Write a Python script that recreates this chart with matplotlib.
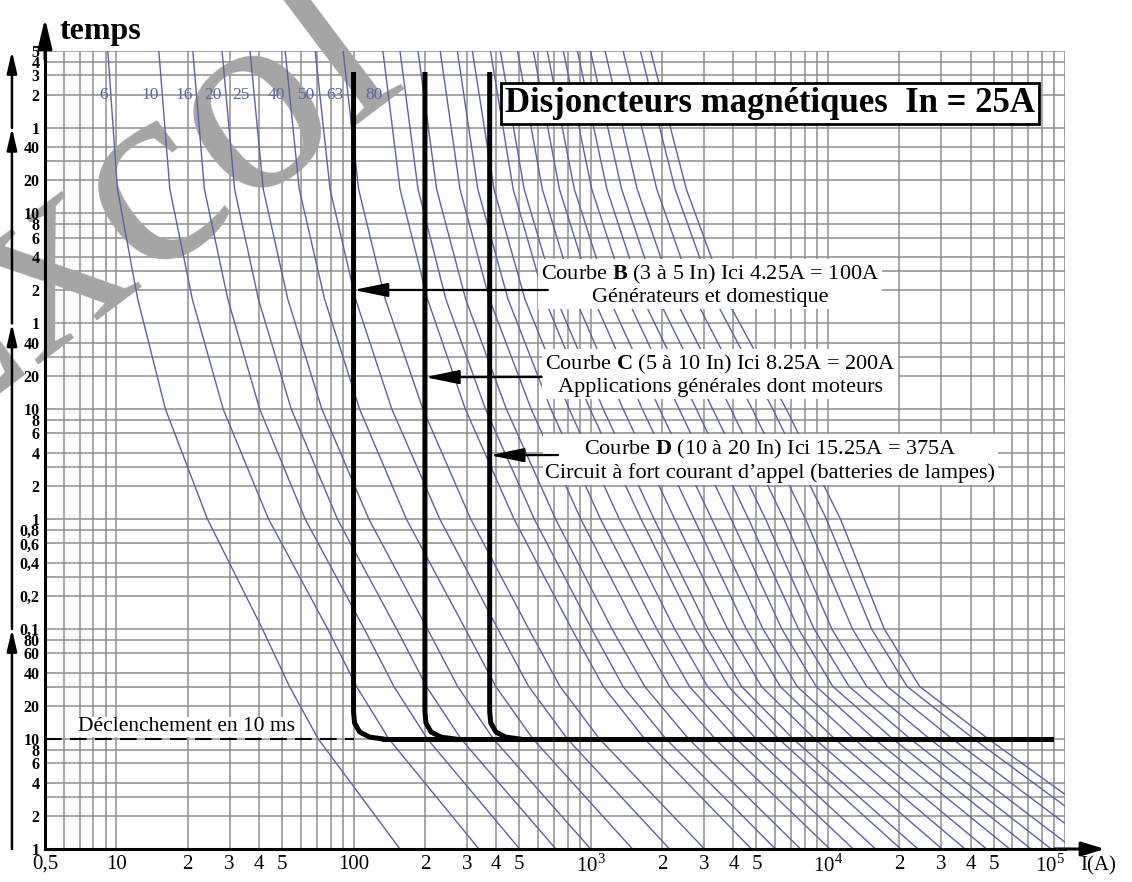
import matplotlib.pyplot as plt
import matplotlib.ticker as mticker

plt.rcParams['font.family'] = 'Liberation Serif'
plt.rcParams['mathtext.fontset'] = 'custom'
plt.rcParams['mathtext.rm'] = 'Liberation Serif'
plt.rcParams['mathtext.bf'] = 'Liberation Serif:bold'

# fuse curves (blue): current (A) at fixed times (s)
fuse_times = [18000, 1000, 100, 10, 1, 0.1, 0.03, 0.01, 0.001]
fuse_currents = [
    [9.2, 10.1, 12.3, 16.1, 24.2, 41.3, 53.7, 71.0, 157],
    [15.1, 16.8, 20.9, 28.2, 43.8, 77.8, 103, 141, 338],
    [21.0, 23.5, 29.5, 40.2, 62.5, 111, 148, 205, 502],
    [27.9, 31.5, 39.7, 54.6, 85.5, 152, 203, 284, 713],
    [36.6, 41.6, 52.8, 73.5, 116, 205, 275, 389, 1000],
    [51.5, 59.0, 75.5, 106, 167, 296, 398, 571, 1500],
    [68.9, 79.6, 102, 145, 231, 406, 548, 798, 2150],
    [90.4, 105, 136, 196, 312, 548, 743, 1090, 3020],
    [133, 157, 205, 296, 475, 832, 1130, 1690, 4760],
    [157, 187, 245, 360, 578, 1010, 1370, 2080, 6010],
    [187, 224, 297, 441, 711, 1230, 1690, 2590, 7670],
    [232, 281, 374, 561, 908, 1570, 2150, 3350, 10200],
    [274, 334, 448, 679, 1100, 1900, 2610, 4120, 12800],
    [317, 391, 528, 811, 1320, 2260, 3110, 4990, 15900],
    [378, 471, 640, 993, 1630, 2760, 3810, 6210, 20300],
    [416, 524, 718, 1130, 1850, 3130, 4330, 7150, 24000],
    [491, 625, 863, 1370, 2260, 3780, 5250, 8810, 30300],
    [573, 738, 1030, 1650, 2730, 4530, 6300, 10700, 37900],
    [656, 853, 1200, 1950, 3240, 5330, 7430, 12900, 46700],
    [767, 1010, 1430, 2360, 3910, 6400, 8930, 15700, 58500],
    [879, 1170, 1660, 2790, 4630, 7520, 10500, 18800, 71900],
    [998, 1350, 1930, 3270, 5460, 8750, 12300, 22300, 87500],
    [1150, 1570, 2270, 3900, 6530, 10400, 14600, 26900, 109000],
    [1370, 1900, 2760, 4800, 8050, 12700, 17800, 33500, 139000],
    [1620, 2270, 3330, 5860, 9860, 15300, 21600, 41300, 176000],
    [1790, 2530, 3740, 6680, 11300, 17300, 24400, 47500, 208000],
]
fuse_labels = ['6', '10', '16', '20', '25', '40', '50', '63', '80']

# magnetic breakers (thick black): B, C, D
trip_time = 0.01
breaker_t = [11000, 0.0176, 0.014, 0.0116, 0.0104, 0.01]
breaker_B_I = [100, 100, 101, 106, 117, 134]
breaker_C_I = [200, 200, 202, 212, 234, 268]
breaker_D_I = [375, 375, 379, 398, 438, 502]
trip_line_end = 87000

# axis ticks
xtick_values = [5, 10, 20, 30, 40, 50, 100, 200, 300, 400, 500, 1000, 2000, 3000, 4000, 5000,
                10000, 20000, 30000, 40000, 50000, 100000]
xtick_labels = ['0,5', '10', '2', '3', '4', '5', '100', '2', '3', '4', '5', r'$10^3$', '2', '3', '4', '5',
                r'$10^4$', '2', '3', '4', '5', r'$10^5$']
ytick_values = [0.001, 0.002, 0.004, 0.006, 0.008, 0.01, 0.02, 0.04, 0.06, 0.08,
                0.1, 0.2, 0.4, 0.6, 0.8, 1, 2, 4, 6, 8, 10, 20, 40,
                60, 120, 240, 360, 480, 600, 1200, 2400,
                3600, 7200, 10800, 14400, 18000]
ytick_labels = ['1', '2', '4', '6', '8', '10', '20', '40', '60', '80',
                '0,1', '0,2', '0,4', '0,6', '0,8', '1', '2', '4', '6', '8', '10', '20', '40',
                '1', '2', '4', '6', '8', '10', '20', '40',
                '1', '2', '3', '4', '5']

fig = plt.figure(figsize=(11.32, 8.82), dpi=100)
ax = fig.add_axes([45 / 1132, 33 / 882, 1020 / 1132, 798 / 882])
ax.set_xscale('log')
ax.set_yscale('log')
ax.set_xlim(5, 1e5)
ax.set_ylim(1e-3, 18000)

# log paper grid
grid_col = '#8e8e8e'
grid_x = [k * 10 ** e for e in range(0, 5) for k in range(1, 10) if 5 <= k * 10 ** e <= 1e5] + [1e5]
grid_y = [k * 10.0 ** e for e in range(-3, 1) for k in (1, 2, 3, 4, 6, 8)]
grid_y += [10, 20, 30, 40, 60, 120, 180, 240, 360, 480, 600, 1200, 1800, 2400,
           3600, 7200, 10800, 14400, 18000]
for gx in grid_x:
    ax.axvline(gx, color=grid_col, lw=1.1, zorder=1)
for gy in grid_y:
    ax.axhline(gy, color=grid_col, lw=1.1, zorder=1)

# watermark
ax.text(-0.0856, 0.4773, 'Excol', transform=fig.transFigure, fontsize=195, rotation=37,
        rotation_mode='anchor', ha='left', va='baseline', color='#a5a5a5', zorder=1.5, clip_on=False)

# fuse curves
for cur in fuse_currents:
    ax.plot(cur, fuse_times, color='#5a63a3', lw=1.0, zorder=2)
for lab, cur in zip(fuse_labels, fuse_currents):
    ax.text(cur[0], 7100, lab, ha='right', va='center', fontsize=12.5, color='#5468a6', zorder=2.5)

# breakers
for bI in (breaker_B_I, breaker_C_I, breaker_D_I):
    ax.plot(bI, breaker_t, color='black', lw=3.6, zorder=3, solid_joinstyle='round')
ax.plot([breaker_B_I[-1], trip_line_end], [trip_time, trip_time], color='black', lw=3.6, zorder=3)
ax.plot([5, breaker_B_I[0]], [trip_time, trip_time], color='black', lw=1.5,
        dashes=(8, 4), zorder=3)
ax.text(0.139, 0.153, 'Déclenchement en 10 ms', transform=ax.transAxes, fontsize=15.5,
        ha='center', va='center', zorder=5,
        bbox=dict(facecolor='white', edgecolor='none', pad=0.5))

# title box
ax.text(0.711, 0.934, 'Disjoncteurs magnétiques  In = 25A', transform=ax.transAxes,
        fontsize=25, fontweight='bold', ha='center', va='center', zorder=6,
        bbox=dict(boxstyle='square,pad=0.12', facecolor='white', edgecolor='black', lw=2))

# annotations
notes = [
    (0.652, 0.707, 'Courbe $\\mathbf{B}$ (3 à 5 In) Ici 4.25A = 100A\nGénérateurs et domestique'),
    (0.662, 0.594, 'Courbe $\\mathbf{C}$ (5 à 10 In) Ici 8.25A = 200A\nApplications générales dont moteurs'),
    (0.711, 0.487, 'Courbe $\\mathbf{D}$ (10 à 20 In) Ici 15.25A = 375A\n'
                   'Circuit à fort courant d’appel (batteries de lampes)'),
]
for nx, ny, txt in notes:
    ax.text(nx, ny, txt, transform=ax.transAxes, fontsize=16, ha='center', va='center',
            multialignment='center', linespacing=1.1, zorder=5,
            bbox=dict(facecolor='white', edgecolor='none', pad=2))

arrow_kw = dict(arrowstyle='-|>,head_width=0.43,head_length=2.1', lw=1.6, color='black',
                shrinkA=0, shrinkB=0, mutation_scale=10)
for bI, ty, tail in ((breaker_B_I, 121, (0.493, 0.7005)),
                     (breaker_C_I, 19.5, (0.487, 0.5915)),
                     (breaker_D_I, 3.8, (0.503, 0.4937))):
    ax.annotate('', xy=(bI[0], ty), xycoords='data', xytext=tail, textcoords='axes fraction',
                arrowprops=arrow_kw, zorder=7)

# axes, ticks
for s in ('top', 'right'):
    ax.spines[s].set_visible(False)
for s in ('left', 'bottom'):
    ax.spines[s].set_linewidth(2.2)
ax.xaxis.set_minor_locator(mticker.NullLocator())
ax.yaxis.set_minor_locator(mticker.NullLocator())
ax.set_xticks(xtick_values, xtick_labels, fontsize=15)
ax.set_yticks(ytick_values, ytick_labels, fontsize=11.5, fontweight='bold')
ax.get_xticklabels()[-1].set_horizontalalignment('right')
ax.tick_params(axis='both', which='both', length=0)
ax.tick_params(axis='x', pad=4)
ax.tick_params(axis='y', pad=4)

ax.annotate('', xy=(0, 1.041), xytext=(0, 0.99), xycoords='axes fraction',
            arrowprops=dict(arrowstyle='-|>,head_width=0.43,head_length=1.8', lw=2.2, color='black',
                            shrinkA=0, shrinkB=0, mutation_scale=10), annotation_clip=False)
ax.annotate('', xy=(1.039, 0), xytext=(0.99, 0), xycoords='axes fraction',
            arrowprops=dict(arrowstyle='-|>,head_width=0.43,head_length=1.4', lw=2.2, color='black',
                            shrinkA=0, shrinkB=0, mutation_scale=10), annotation_clip=False)
ax.text(0.0147, 1.024, 'temps', transform=ax.transAxes, fontsize=23, fontweight='bold',
        ha='left', va='center')
ax.text(1.033, -0.021, 'I(A)', transform=ax.transAxes, fontsize=15, ha='center', va='center')

# unit segments arrows on the far left
ytr = ax.get_yaxis_transform()
for y0, y1 in ((0.001, 0.1), (0.1, 60), (60, 3600), (3600, 18000)):
    ax.annotate('', xy=(-0.0324, y1), xytext=(-0.0324, y0), xycoords=ytr, textcoords=ytr,
                arrowprops=dict(arrowstyle='-|>,head_width=0.3,head_length=1.3', lw=1.8,
                                color='black', shrinkA=0, shrinkB=0, mutation_scale=10),
                annotation_clip=False)

fig.savefig('out.png', dpi=100)
